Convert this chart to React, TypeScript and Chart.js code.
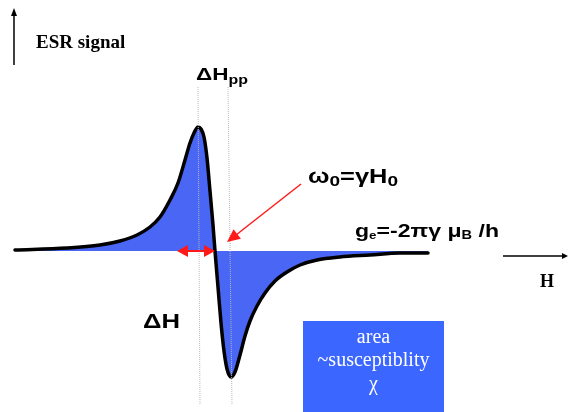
import React, { useEffect, useRef } from "react";
import { Chart, registerables } from "chart.js";

Chart.register(...registerables);

// Magnetic field H (arbitrary units along the horizontal axis)
const fieldH = [15, 67, 100, 120, 137, 150, 160, 170, 178, 185, 190, 194, 198, 201, 204, 207, 210, 213, 215, 218, 221, 224, 227, 231, 235, 240, 245, 250, 257, 265, 275, 287, 300, 317, 340, 370, 400, 428];
// ESR derivative signal
const esrSignal = [1, 3, 6, 10, 16, 24, 34, 51, 68, 91, 108, 118, 124, 122, 114, 93, 60, 26, 0, -36, -72, -100, -118, -126, -121, -104, -85, -70, -55, -42, -30, -21, -14, -9, -6, -4, -2, -2];

const H_MIN = 0;
const H_MAX = 568;
const S_MIN = -161;
const S_MAX = 251;

type Run = { t: string; font: string; dy?: number };

function drawRuns(ctx: CanvasRenderingContext2D, x: number, y: number, runs: Run[], color: string, targetW?: number) {
  ctx.save();
  ctx.fillStyle = color;
  ctx.textBaseline = "alphabetic";
  ctx.textAlign = "left";
  let total = 0;
  for (const r of runs) {
    ctx.font = r.font;
    total += ctx.measureText(r.t).width;
  }
  const sx = targetW ? targetW / total : 1;
  ctx.translate(x, y);
  ctx.scale(sx, 1);
  let cx = 0;
  for (const r of runs) {
    ctx.font = r.font;
    ctx.fillText(r.t, cx, r.dy || 0);
    cx += ctx.measureText(r.t).width;
  }
  ctx.restore();
}

function arrowHead(ctx: CanvasRenderingContext2D, tx: number, ty: number, fx: number, fy: number, len: number, half: number, color: string) {
  const a = Math.atan2(ty - fy, tx - fx);
  ctx.fillStyle = color;
  ctx.beginPath();
  ctx.moveTo(tx, ty);
  ctx.lineTo(tx - len * Math.cos(a) + half * Math.sin(a), ty - len * Math.sin(a) - half * Math.cos(a));
  ctx.lineTo(tx - len * Math.cos(a) - half * Math.sin(a), ty - len * Math.sin(a) + half * Math.cos(a));
  ctx.closePath();
  ctx.fill();
}

export default function App() {
  const ref = useRef<HTMLCanvasElement>(null);
  useEffect(() => {
    const canvas = ref.current;
    if (!canvas) return;
    const annot = {
      id: "annot",
      afterDatasetsDraw(chart: any) {
        const ctx: CanvasRenderingContext2D = chart.ctx;
        const xs = chart.scales.x;
        const ys = chart.scales.y;
        const X = (v: number) => xs.getPixelForValue(v);
        const Y = (v: number) => ys.getPixelForValue(v);
        ctx.save();
        // dotted guide lines at the peaks
        ctx.strokeStyle = "#b8b8b8";
        ctx.lineWidth = 1;
        ctx.setLineDash([1, 1]);
        ctx.beginPath();
        ctx.moveTo(X(198), Y(164));
        ctx.lineTo(X(200), Y(-154));
        ctx.moveTo(X(228), Y(164));
        ctx.lineTo(X(232), Y(-154));
        ctx.stroke();
        ctx.setLineDash([]);

        // vertical signal arrow
        ctx.strokeStyle = "#000";
        ctx.lineWidth = 1.5;
        ctx.beginPath();
        ctx.moveTo(X(14), Y(186));
        ctx.lineTo(X(14), Y(238));
        ctx.stroke();
        arrowHead(ctx, X(14), Y(243), X(14), Y(186), 8, 3, "#000");

        // H axis arrow
        ctx.beginPath();
        ctx.moveTo(X(503), Y(-5));
        ctx.lineTo(X(566), Y(-5));
        ctx.stroke();
        arrowHead(ctx, X(568), Y(-5), X(503), Y(-5), 6, 3, "#000");

        // red double arrow (ΔH half-width)
        ctx.strokeStyle = "#ff1a1a";
        ctx.lineWidth = 2;
        ctx.beginPath();
        ctx.moveTo(X(186), Y(0));
        ctx.lineTo(X(206), Y(0));
        ctx.stroke();
        arrowHead(ctx, X(177), Y(0), X(215), Y(0), 11, 6, "#ff1a1a");
        arrowHead(ctx, X(215), Y(0), X(177), Y(0), 11, 6, "#ff1a1a");

        // red arrow pointing to resonance
        ctx.lineWidth = 1.5;
        ctx.beginPath();
        ctx.moveTo(X(301), Y(67));
        ctx.lineTo(X(236), Y(16));
        ctx.stroke();
        arrowHead(ctx, X(227), Y(9), X(301), Y(67), 13, 6, "#ff1a1a");

        // texts
        const sans = "'Liberation Sans', Arial, sans-serif";
        const serif = "'Liberation Serif', 'Times New Roman', serif";
        drawRuns(ctx, X(36), Y(203), [{ t: "ESR signal", font: `bold 19px ${serif}` }], "#000");
        drawRuns(ctx, X(196), Y(171), [
          { t: "ΔH", font: `bold 17px ${sans}` },
          { t: "pp", font: `bold 12px ${sans}`, dy: 4 },
        ], "#000", 52);
        drawRuns(ctx, X(308), Y(68), [
          { t: "ω", font: `bold 20px ${sans}` },
          { t: "0", font: `bold 15px ${sans}`, dy: 3 },
          { t: "=γH", font: `bold 20px ${sans}` },
          { t: "0", font: `bold 15px ${sans}`, dy: 3 },
        ], "#000", 90);
        drawRuns(ctx, X(355), Y(14), [
          { t: "g", font: `bold 19px ${sans}` },
          { t: "e", font: `bold 11px ${sans}`, dy: 2 },
          { t: "=-2πγ μ", font: `bold 19px ${sans}` },
          { t: "B", font: `bold 12px ${sans}`, dy: 2 },
          { t: " /h", font: `bold 19px ${sans}` },
        ], "#000", 144);
        drawRuns(ctx, X(540), Y(-36), [{ t: "H", font: `bold 18px ${serif}` }], "#000");
        drawRuns(ctx, X(143), Y(-77), [{ t: "ΔH", font: `bold 21px ${sans}` }], "#000", 37);

        // susceptibility box
        const bx = X(303), by = Y(-70), bw = X(444) - X(303), bh = Y(-161) - Y(-70);
        ctx.fillStyle = "#3b66ff";
        ctx.fillRect(bx, by, bw, bh);
        ctx.fillStyle = "#ffffff";
        ctx.textAlign = "center";
        ctx.textBaseline = "alphabetic";
        ctx.font = `20px ${serif}`;
        const cx = bx + bw / 2;
        ctx.fillText("area", cx, Y(-92));
        ctx.fillText("~susceptiblity", cx, Y(-115));
        ctx.fillText("χ", cx, Y(-139));
        ctx.restore();
      },
    };
    const chart = new Chart(canvas, {
      type: "line",
      data: {
        datasets: [
          {
            data: fieldH.map((h, i) => ({ x: h, y: esrSignal[i] })),
            borderColor: "#000000",
            borderWidth: 3.5,
            backgroundColor: "#4a66f5",
            fill: "origin",
            pointRadius: 0,
            cubicInterpolationMode: "monotone",
            borderCapStyle: "round",
            borderJoinStyle: "round",
          },
        ],
      },
      options: {
        responsive: false,
        animation: false,
        devicePixelRatio: 1,
        layout: { padding: 0 },
        plugins: { legend: { display: false }, tooltip: { enabled: false } },
        scales: {
          x: { type: "linear", display: false, min: H_MIN, max: H_MAX },
          y: { type: "linear", display: false, min: S_MIN, max: S_MAX },
        },
      },
      plugins: [annot],
    } as any);
    return () => chart.destroy();
  }, []);
  return (
    <div style={{ position: "fixed", left: 0, top: 0, width: 568, height: 412, background: "#fff" }}>
      <canvas ref={ref} width={568} height={412} style={{ display: "block" }} />
    </div>
  );
}
